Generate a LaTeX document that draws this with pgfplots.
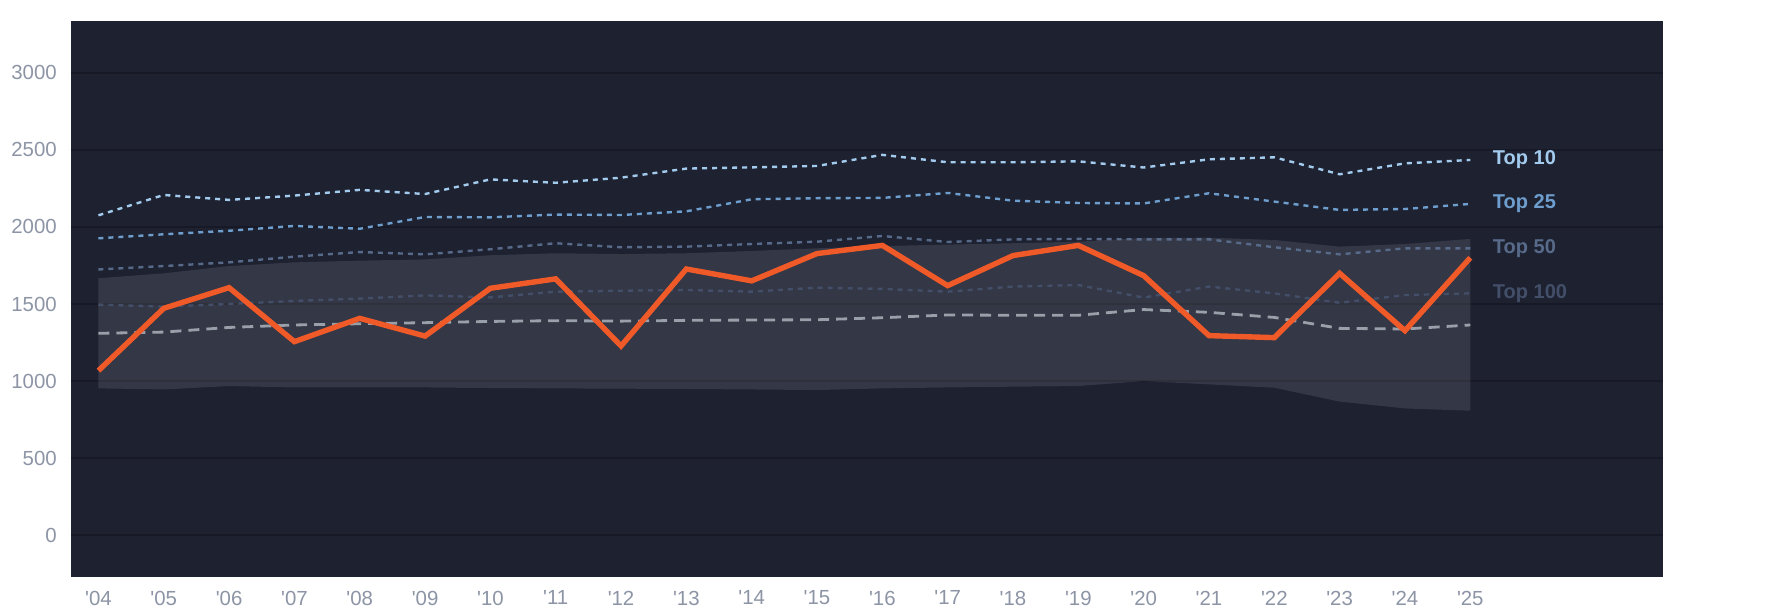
\documentclass[border=0pt]{standalone}
\usepackage{pgfplots}
\pgfplotsset{compat=1.18}
\usepackage{pgfplotstable}
\usepackage{fontspec}
\setmainfont{Liberation Sans}
\definecolor{bgcol}{HTML}{1D2130}
\definecolor{gridcol}{HTML}{171A26}
\definecolor{tickcol}{HTML}{8C94A5}
\definecolor{orangecol}{HTML}{F05A28}
\definecolor{topten}{HTML}{A3CBEE}
\definecolor{toptwentyfive}{HTML}{6E9ECE}
\definecolor{topfifty}{HTML}{586A8A}
\definecolor{tophundred}{HTML}{434E68}
\definecolor{mediancol}{HTML}{9AA0AA}

\pgfplotstableread{
i  team  t10  t25  t50  t100 med
0  1068  2075 1926 1724 1496 1310
1  1472  2207 1952 1746 1483 1318
2  1606  2175 1975 1770 1500 1348
3  1256  2203 2006 1807 1520 1364
4  1407  2240 1988 1837 1535 1372
5  1292  2213 2064 1822 1556 1379
6  1602  2308 2062 1855 1543 1387
7  1663  2286 2080 1894 1580 1392
8  1228  2319 2077 1868 1586 1389
9  1727  2378 2101 1872 1591 1394
10 1650  2386 2179 1889 1580 1396
11 1827  2395 2186 1904 1606 1398
12 1880  2467 2188 1941 1598 1411
13 1619  2419 2220 1902 1580 1429
14 1814  2419 2170 1919 1613 1427
15 1880  2425 2155 1922 1623 1427
16 1684  2385 2152 1919 1542 1464
17 1295  2438 2218 1919 1613 1446
18 1282  2451 2164 1868 1569 1413
19 1699  2341 2110 1822 1508 1342
20 1327  2412 2116 1861 1558 1338
21 1800  2434 2149 1861 1569 1364
}\datatable

% band: upper edge left to right, then lower edge right to left
\pgfplotstableread{
i  v
0  1667
1  1699
2  1746
3  1770
4  1781
5  1789
6  1816
7  1829
8  1824
9  1829
10 1844
11 1861
12 1876
13 1885
14 1894
15 1904
16 1928
17 1930
18 1915
19 1872
20 1889
21 1922
21 808
20 823
19 867
18 957
17 979
16 1000
15 968
14 964
13 959
12 953
11 942
10 946
9  949
8  951
7  953
6  955
5  959
4  959
3  959
2  968
1  946
0  953
}\bandtable

\begin{document}
\begin{tikzpicture}
\begin{axis}[
  at={(35.5pt,18.65pt)}, anchor=south west,
  scale only axis, width=796pt, height=277.85pt,
  xmin=-0.42, xmax=23.95, ymin=-268, ymax=3335,
  axis background/.style={fill=bgcol},
  axis line style={draw=none},
  major tick length=0pt,
  tick style={draw=none},
  ymajorgrids,
  grid style={draw=gridcol, line width=1pt},
  ytick={0,500,1000,1500,2000,2500,3000},
  scaled y ticks=false,
  /pgf/number format/1000 sep={},
  /pgf/number format/assume math mode=true,
  xtick={0,...,21},
  xticklabels={\textquotesingle04,\textquotesingle05,\textquotesingle06,\textquotesingle07,\textquotesingle08,\textquotesingle09,\textquotesingle10,\textquotesingle11,\textquotesingle12,\textquotesingle13,\textquotesingle14,\textquotesingle15,\textquotesingle16,\textquotesingle17,\textquotesingle18,\textquotesingle19,\textquotesingle20,\textquotesingle21,\textquotesingle22,\textquotesingle23,\textquotesingle24,\textquotesingle25},
  ticklabel style={font=\fontsize{10.2pt}{12pt}\selectfont, text=tickcol},
  yticklabel style={xshift=-3.6pt},
  xticklabel style={yshift=-3.5pt},
  clip=false,
]
\addplot[fill=white, fill opacity=0.1, draw=none] table[x=i, y=v] {\bandtable} -- cycle;

\addplot[tophundred, line width=1.2pt, dash pattern=on 2.5pt off 2.5pt] table[x=i, y=t100] {\datatable};
\addplot[topfifty, line width=1.2pt, dash pattern=on 2.5pt off 2.5pt] table[x=i, y=t50] {\datatable};
\addplot[toptwentyfive, line width=1.2pt, dash pattern=on 2.5pt off 2.5pt] table[x=i, y=t25] {\datatable};
\addplot[topten, line width=1.2pt, dash pattern=on 2.5pt off 2.5pt] table[x=i, y=t10] {\datatable};
\addplot[mediancol, line width=1.4pt, dash pattern=on 5.5pt off 3.5pt] table[x=i, y=med] {\datatable};
\addplot[orangecol, line width=2.7pt, line join=miter] table[x=i, y=team] {\datatable};

\node[anchor=west, xshift=7.8pt, font=\bfseries\fontsize{10pt}{12pt}\selectfont, text=topten] at (axis cs:21,2434) {Top 10};
\node[anchor=west, xshift=7.8pt, font=\bfseries\fontsize{10pt}{12pt}\selectfont, text=toptwentyfive] at (axis cs:21,2149) {Top 25};
\node[anchor=west, xshift=7.8pt, font=\bfseries\fontsize{10pt}{12pt}\selectfont, text=topfifty] at (axis cs:21,1861) {Top 50};
\node[anchor=west, xshift=7.8pt, font=\bfseries\fontsize{10pt}{12pt}\selectfont, text=tophundred] at (axis cs:21,1569) {Top 100};
\end{axis}
\pgfresetboundingbox
\useasboundingbox (0,0) rectangle (892.5pt,307pt);
\end{tikzpicture}
\end{document}
